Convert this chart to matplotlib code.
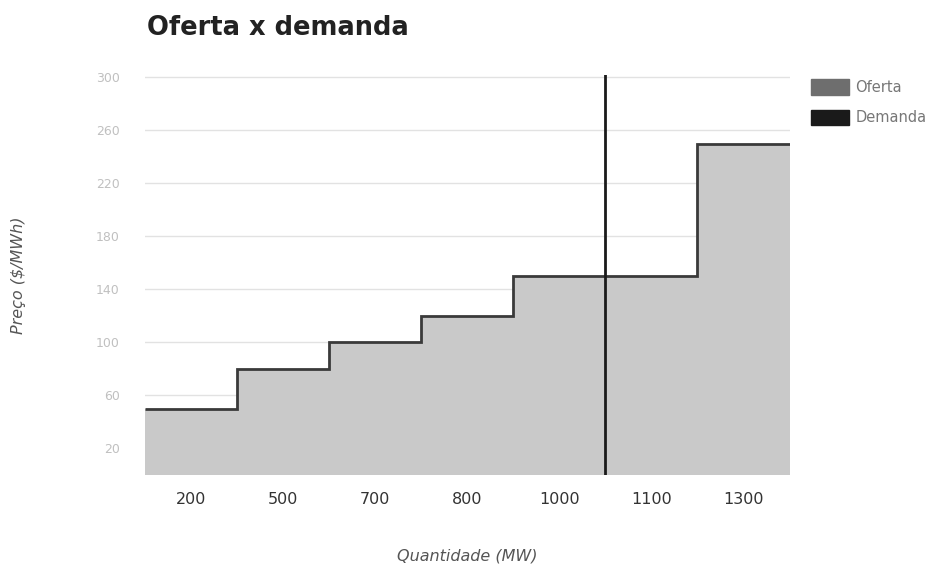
import numpy as np
import matplotlib.pyplot as plt
from matplotlib.patches import Patch

# data
quantidades = ['200', '500', '700', '800', '1000', '1100', '1300']
precos = [50, 80, 100, 120, 150, 150, 250]
demanda_apos = '1000'  # demand line sits between 1000 and 1100
y_ticks = [20, 60, 100, 140, 180, 220, 260, 300]

fig = plt.figure(figsize=(9.4, 5.66), dpi=100)
ax = fig.add_axes([0.154, 0.161, 0.686, 0.707])

edges = np.arange(len(quantidades) + 1) - 0.5
ax.stairs(precos, edges, fill=True, color='#c9c9c9', zorder=2)
ax.stairs(precos, edges, baseline=None, color='#3a3a3a', linewidth=2, zorder=3)

x_dem = quantidades.index(demanda_apos) + 0.5
ax.axvline(x_dem, color='#1a1a1a', linewidth=2, zorder=4)

ax.set_xlim(edges[0], edges[-1])
ax.set_ylim(0, 302)
ax.set_xticks(range(len(quantidades)))
ax.set_xticklabels(quantidades, fontsize=11.5, color='#333333')
ax.set_yticks(y_ticks)
ax.tick_params(axis='y', labelsize=9, colors='#c0c0c0', length=0, pad=18)
ax.tick_params(axis='x', length=0, pad=12)
ax.grid(axis='y', color='#e2e2e2', linewidth=1, zorder=0)
for s in ax.spines.values():
    s.set_visible(False)

ax.set_xlabel('Quantidade (MW)', fontsize=11.5, style='italic', color='#555555', labelpad=30)
ax.set_ylabel('Preço ($/MWh)', fontsize=11.5, style='italic', color='#555555', labelpad=50)

fig.text(0.156, 0.95, 'Oferta x demanda', fontsize=18.5, fontweight='bold', color='#222222', va='center')

handles = [Patch(facecolor='#6e6e6e', edgecolor='#6e6e6e', label='Oferta'),
           Patch(facecolor='#1a1a1a', edgecolor='#1a1a1a', label='Demanda')]
fig.legend(handles=handles, loc='upper left', bbox_to_anchor=(0.857, 0.87), frameon=False,
           fontsize=10.5, labelcolor='#777777', handlelength=2.6, handleheight=1.25,
           handletextpad=0.4, labelspacing=1.0, borderaxespad=0)

fig.savefig('out.png', dpi=100)
